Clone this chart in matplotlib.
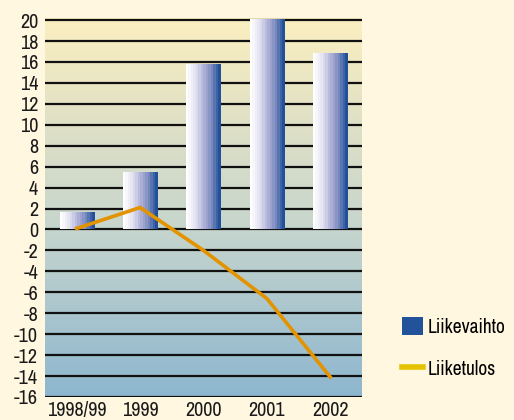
import numpy as np
import matplotlib
matplotlib.use('Agg')
from matplotlib import pyplot as plt, patches
from matplotlib.colors import LinearSegmentedColormap
from matplotlib.lines import Line2D
from matplotlib import font_manager

categories = ['1998/99', '1999', '2000', '2001', '2002']
liikevaihto = [1.6, 5.4, 15.7, 20.0, 16.8]
liiketulos = [0.1, 2.1, -2.0, -6.6, -14.1]
yticks = list(range(-16, 21, 2))

names = sorted({f.name for f in font_manager.fontManager.ttflist})
narrow = [n for n in names if 'Narrow' in n or 'Condensed' in n]
plt.rcParams['font.family'] = narrow[:1] + ['DejaVu Sans']
plt.rcParams['font.stretch'] = 'condensed'

fig = plt.figure(figsize=(5.14, 4.20), dpi=100)
fig.patch.set_facecolor('#fff7e0')
ax = fig.add_axes([45/514, 23/420, 317/514, 379/420])

ymin, ymax = -16, 20.2
xmin, xmax = -0.5, 4.5

# background gradient (yellow at top -> blue at bottom)
bg = LinearSegmentedColormap.from_list('bg', [
    (0.0, '#8db6cf'),
    (16/36.2, '#c6d5cd'),
    (26/36.2, '#dfe0c6'),
    (1.0, '#fbefc0'),
])
ax.imshow(np.linspace(0, 1, 256).reshape(-1, 1), cmap=bg, origin='lower',
          extent=(xmin, xmax, ymin, ymax), aspect='auto', zorder=0)

for y in yticks:
    ax.axhline(y, color='#111111', lw=1.6, zorder=1)

# bars with banded white -> blue gradient
barcm = LinearSegmentedColormap.from_list('bar', ['#ffffff', '#e4e4f2', '#b4b6da', '#7d8cc0', '#22519a'])
width = 0.54
x = np.arange(len(categories))
for xi, h in zip(x, liikevaihto):
    grad = np.linspace(0, 1, 14).reshape(1, -1)
    ax.imshow(grad, cmap=barcm, origin='lower', interpolation='nearest',
              extent=(xi - width/2, xi + width/2, 0, h), aspect='auto', zorder=2)

ax.plot(x, liiketulos, color='#e39300', lw=2.6, zorder=3, solid_joinstyle='miter')

ax.set_xlim(xmin, xmax)
ax.set_ylim(ymin, ymax)
ax.set_yticks(yticks)
ax.set_yticklabels([str(v) for v in yticks])
ax.set_xticks(x)
ax.set_xticklabels(categories)
ax.tick_params(length=0, labelsize=14.5, colors='#1a1a1a', pad=3)
ax.tick_params(axis='y', pad=5)
for s in ax.spines.values():
    s.set_visible(False)

handles = [patches.Patch(facecolor='#22529a', edgecolor='none'),
           Line2D([], [], color='#e6c300', lw=4)]
fig.legend(handles, ['Liikevaihto', 'Liiketulos'], loc='upper left',
           bbox_to_anchor=(394/514, 1 - 309/420), frameon=False, borderaxespad=0,
           fontsize=14, handlelength=1.08, handleheight=1.08,
           labelspacing=1.15, handletextpad=0.25)

fig.savefig('out.png', dpi=100, facecolor=fig.get_facecolor())
